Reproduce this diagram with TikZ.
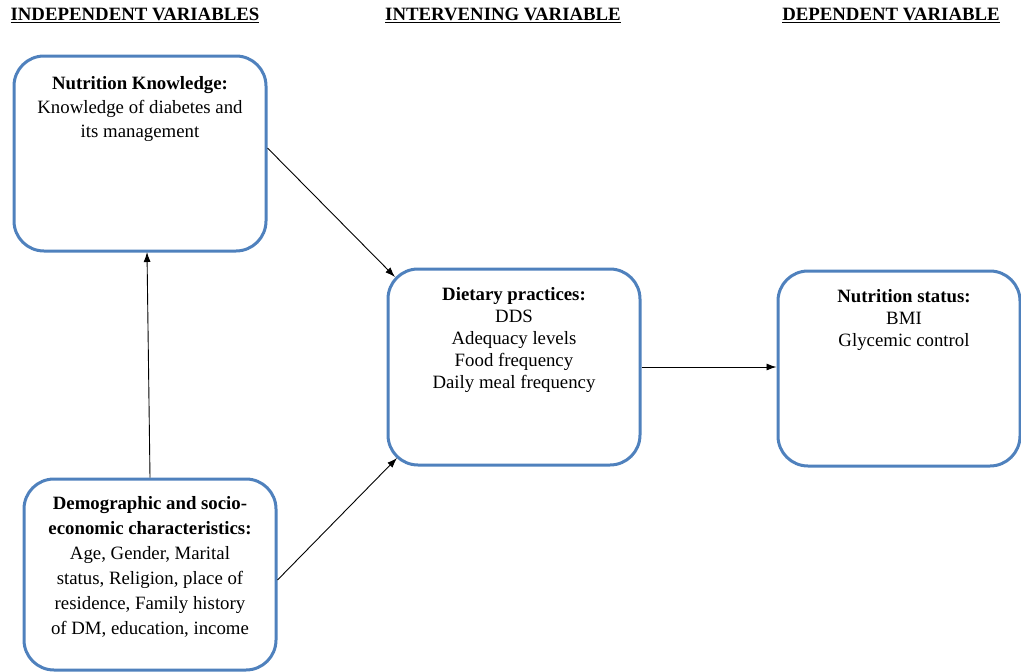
\documentclass[tikz,border=0pt]{standalone}
\usepackage{fontspec}
\setmainfont{Liberation Serif}
\usetikzlibrary{arrows.meta,calc}
\definecolor{boxblue}{RGB}{79,129,189}
\begin{document}
\begin{tikzpicture}[x=1pt,y=-1pt,
  vbox/.style={draw=boxblue,line width=3pt,rounded corners=30pt,fill=white,inner sep=0pt},
  vtext/.style={anchor=north,align=center,inner sep=0pt,font=\rmfamily\fontsize{18.8}{22}\selectfont},
  head/.style={font=\rmfamily\fontsize{18.8}{22}\selectfont\bfseries,inner sep=0pt},
  conn/.style={line width=0.9pt,-{Latex[length=10pt,width=7pt]}}]
\useasboundingbox (0,0) rectangle (1021,672);
% headers
\node[head] (h1) at (135,15) {\underline{INDEPENDENT VARIABLES}};
\node[head] (h2) at (503,15) {\underline{INTERVENING VARIABLE}};
\node[head] (h3) at (891,15) {\underline{DEPENDENT VARIABLE}};
% boxes
\node[vbox,minimum width=252pt,minimum height=195pt] (b1) at (140,153.5) {};
\node[vbox,minimum width=252pt,minimum height=196pt] (b2) at (514,367) {};
\node[vbox,minimum width=242pt,minimum height=195pt] (b3) at (899,368.5) {};
\node[vbox,minimum width=252pt,minimum height=191pt] (b4) at (150,574.5) {};
% texts
\node[vtext,font=\rmfamily\fontsize{18.8}{24}\selectfont] (t1) at (140,76) {\textbf{Nutrition Knowledge:}\\Knowledge of diabetes and\\its management};
\node[vtext] (t2) at (514,287) {\textbf{Dietary practices:}\\DDS\\Adequacy levels\\Food frequency\\Daily meal frequency};
\node[vtext] (t3) at (904,289) {\textbf{Nutrition status:}\\BMI\\Glycemic control};
\node[vtext,font=\rmfamily\fontsize{18.8}{25}\selectfont] (t4) at (150,496) {\textbf{Demographic and socio-}\\\textbf{economic characteristics:}\\Age, Gender, Marital\\status, Religion, place of\\residence, Family history\\of DM, education, income};
% connectors
\coordinate (c1) at (147,252);
\coordinate (c2) at (395,277);
\coordinate (c3) at (397,458);
\draw[conn] (b4.north) -- (c1);
\draw[conn] (b1.east |- 0,148) -- (c2);
\draw[conn] (b4.east |- 0,580) -- (c3);
\draw[conn] (b2.east) -- (b2.east -| b3.west);
\end{tikzpicture}
\end{document}
